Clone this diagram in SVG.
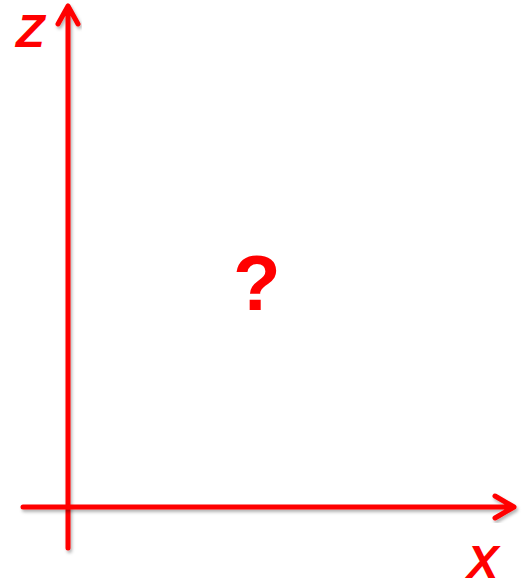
<svg xmlns="http://www.w3.org/2000/svg" width="524" height="583" viewBox="0 0 524 583">
<style>
.ax{stroke:#ff0000;stroke-width:5;fill:none;stroke-linecap:round;stroke-linejoin:round;filter:url(#sh)}
.lbl{fill:#ff0000;font-family:"Liberation Sans",Arial,sans-serif;font-weight:bold}
</style>
<defs>
<filter id="sh" x="-20%" y="-20%" width="140%" height="140%">
<feDropShadow dx="1.5" dy="2.5" stdDeviation="1.5" flood-color="#000" flood-opacity="0.3"/>
</filter>
</defs>
<g id="connectors">
<path class="ax" d="M68,548 V6 M58,24 L68,6 L78,24"/>
<path class="ax" d="M23,507 H514 M495,496 L514,507 L495,518"/>
</g>
<g id="z-label"><text class="lbl" x="16" y="47" font-size="47" font-style="italic">Z</text></g>
<g id="x-label"><text class="lbl" x="467" y="578" font-size="47" font-style="italic">X</text></g>
<g id="question"><text class="lbl" x="233" y="310" font-size="78">?</text></g>
</svg>
